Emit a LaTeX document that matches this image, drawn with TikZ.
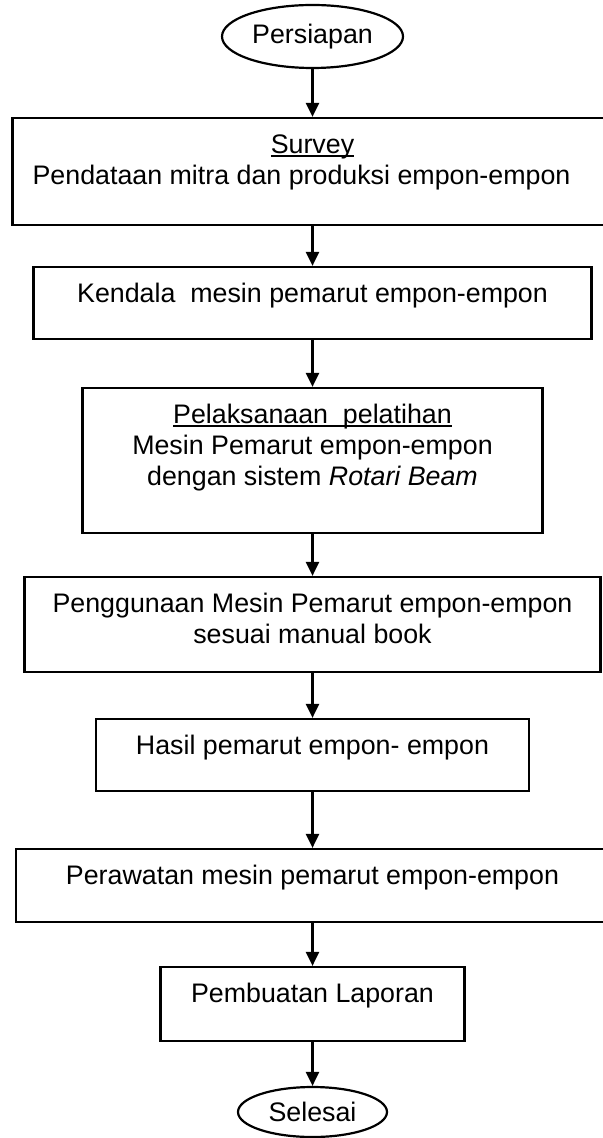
\documentclass[tikz,border=0pt]{standalone}
\usepackage{fontspec}
\setmainfont{Liberation Sans}
\usetikzlibrary{positioning, shapes.geometric, arrows.meta}

\newcommand{\flowfont}{\fontsize{13.4pt}{15.5pt}\selectfont}
\newcommand{\lineunder}[1]{\setbox0\hbox{#1}\rlap{\rule[-1.9pt]{\wd0}{0.9pt}}\box0}

\begin{document}
\begin{tikzpicture}[x=0.5pt, y=-0.5pt, >={Triangle[length=7pt, width=6.5pt]},
  stepbox/.style={draw, line width=1.1pt, inner sep=0pt},
  oval/.style={draw, ellipse, line width=1.1pt, inner sep=0pt, font=\flowfont},
  boxtext/.style={font=\flowfont, align=center, inner sep=0pt},
  flow/.style={->, line width=1.2pt}]
  \useasboundingbox (0,0) rectangle (603,1138);
  \clip (0,0) rectangle (603,1138);

  % start
  \node[oval, minimum width=90.5pt, minimum height=31.5pt] (start) at (312.5,36.5) {Persiapan};

  % survey
  \node[stepbox, minimum width=300pt, minimum height=53.5pt] (survey) at (312.5,171.5) {};
  \node[boxtext, below=7.15pt of survey.north] (surveytxt)
    {\strut\lineunder{Survey}\\Pendataan mitra dan produksi empon-empon\hspace*{11pt}};

  % kendala
  \node[stepbox, minimum width=279pt, minimum height=36pt] (kendala) at (312.5,303) {};
  \node[boxtext, below=7.15pt of kendala.north] (kendalatxt)
    {\strut Kendala\ \ mesin pemarut empon-empon};

  % pelatihan
  \node[stepbox, minimum width=230pt, minimum height=72.5pt] (latih) at (312.5,460.5) {};
  \node[boxtext, below=7.15pt of latih.north] (latihtxt)
    {\strut\lineunder{Pelaksanaan\ \ pelatihan}\\Mesin Pemarut empon-empon\\dengan sistem \textit{Rotari Beam}};

  % penggunaan
  \node[stepbox, minimum width=288pt, minimum height=47.5pt] (guna) at (312.5,624.5) {};
  \node[boxtext, below=7.15pt of guna.north] (gunatxt)
    {\strut Penggunaan Mesin Pemarut empon-empon\\sesuai manual book};

  % hasil
  \node[stepbox, minimum width=216.5pt, minimum height=36pt] (hasil) at (312.5,755) {};
  \node[boxtext, below=7.15pt of hasil.north] (hasiltxt)
    {\strut Hasil pemarut empon- empon};

  % perawatan
  \node[stepbox, minimum width=296.5pt, minimum height=36.5pt] (rawat) at (312.5,885.5) {};
  \node[boxtext, below=7.15pt of rawat.north] (rawattxt)
    {\strut Perawatan mesin pemarut empon-empon};

  % laporan
  \node[stepbox, minimum width=152pt, minimum height=37pt] (lapor) at (312.5,1004) {};
  \node[boxtext, below=7.15pt of lapor.north] (laportxt)
    {\strut Pembuatan Laporan};

  % end
  \node[oval, minimum width=74.5pt, minimum height=25pt] (stop) at (312.5,1112) {Selesai};

  \draw[flow] (start) -- (survey);
  \draw[flow] (survey) -- (kendala);
  \draw[flow] (kendala) -- (latih);
  \draw[flow] (latih) -- (guna);
  \draw[flow] (guna) -- (hasil);
  \draw[flow] (hasil) -- (rawat);
  \draw[flow] (rawat) -- (lapor);
  \draw[flow] (lapor) -- (stop);
\end{tikzpicture}
\end{document}
